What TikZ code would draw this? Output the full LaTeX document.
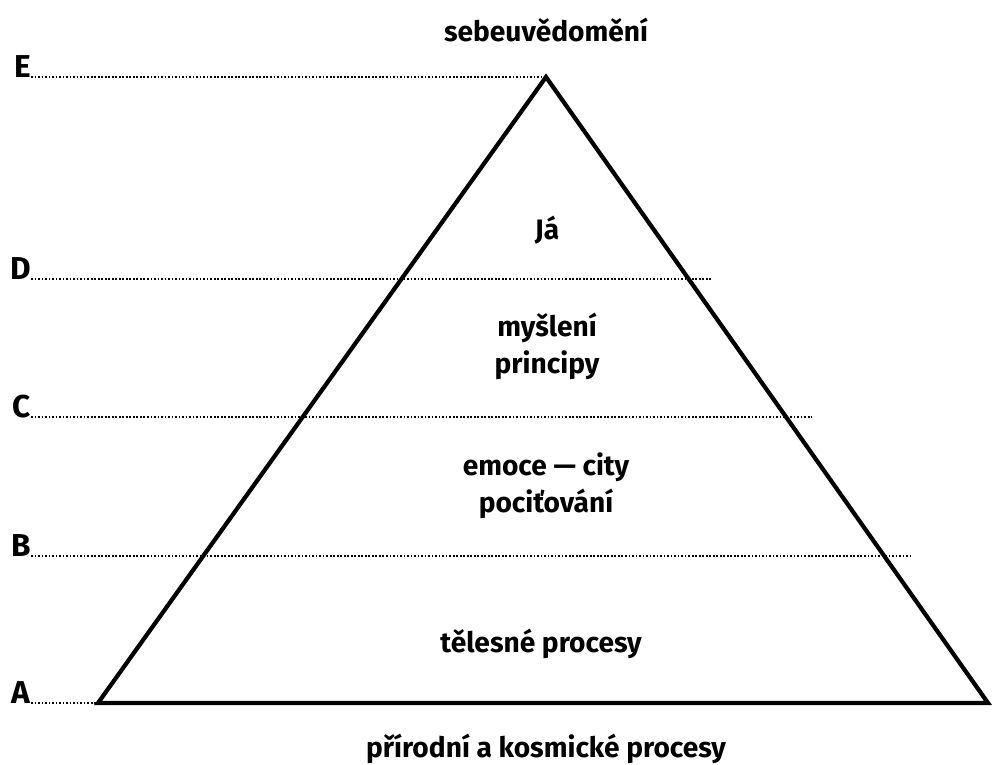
\documentclass[tikz,border=0pt]{standalone}
\usepackage{fontspec}
\setmainfont{Fira Sans}
\usetikzlibrary{calc}

\tikzset{
  level/.style={line width=1pt, densely dotted},
  side/.style={line width=2.4pt, line join=miter},
  lbl/.style={font=\fontsize{16}{21}\selectfont\bfseries, align=center, inner sep=0pt},
  letter/.style={font=\fontsize{18}{20}\selectfont\bfseries, anchor=base east, inner sep=0pt}
}

\begin{document}
\begin{tikzpicture}[x=0.2mm, y=-0.2mm]
		%%%%% START %%%%%
		\useasboundingbox (0, 0) rectangle (992, 764);
		
		\coordinate (top) at (546, 77);
		\coordinate (bl) at (98, 703);
		\coordinate (br) at (988, 703);
		
		\node[letter] (E) at (31, 77) {E};
		\node[letter] (D) at (31, 279) {D};
		\node[letter] (C) at (31, 417) {C};
		\node[letter] (B) at (31, 556) {B};
		\node[letter] (A) at (31, 703) {A};
		
		\draw[level] (E.base east) -- (top);
		\draw[level] (D.base east) -- (712, 279);
		\draw[level] (C.base east) -- (812, 417);
		\draw[level] (B.base east) -- (913, 556);
		\draw[level] (A.base east) -- (bl);
		
		\draw[side] (bl) -- (top) -- (br) -- cycle;
		
		\node[lbl] (self) at (546, 30) {sebeuvědomění};
		\node[lbl] (ja) at (547, 230) {Já};
		\node[lbl] (mind) at (547, 346) {myšlení\\principy};
		\node[lbl] (emo) at (546, 486) {emoce — city\\pociťování};
		\node[lbl] (body) at (541, 644) {tělesné procesy};
		\node[lbl] (nature) at (546, 749) {přírodní a kosmické procesy};
		%%%%% END %%%%%
	\end{tikzpicture}
\end{document}
